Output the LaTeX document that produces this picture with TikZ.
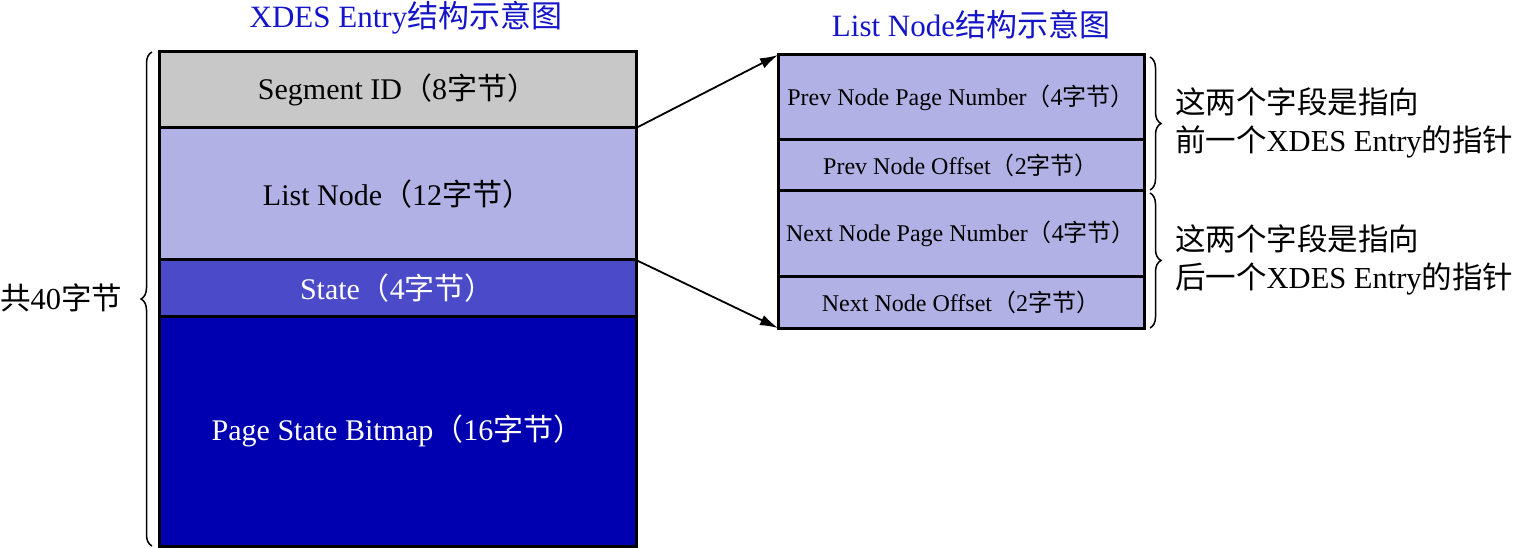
\documentclass[tikz,border=0pt]{standalone}
\usepackage{fontspec}
\setmainfont{Liberation Serif}
\newfontfamily\cjk{Noto Sans CJK SC}
\newcommand{\zh}[1]{{\cjk #1}}
\definecolor{segray}{HTML}{C8C8C8}
\definecolor{lavender}{HTML}{B1B1E6}
\definecolor{stateblue}{HTML}{4B4BC9}
\definecolor{deepblue}{HTML}{0000B0}
\definecolor{titleblue}{HTML}{1414C8}
\usetikzlibrary{arrows.meta, positioning, decorations.pathreplacing}

\begin{document}
\begin{tikzpicture}[x=1pt, y=-1pt,
    field/.style={draw=black, line width=3pt, inner sep=0pt, outer sep=0pt,
                  align=center, font=\fontsize{30}{34}\selectfont},
    subfield/.style={field, fill=lavender, minimum width=366pt,
                     font=\fontsize{24}{28}\selectfont},
    note/.style={inner sep=0pt, align=left, font=\fontsize{30.5}{38}\selectfont},
    heading/.style={inner sep=0pt, text=titleblue, font=\fontsize{31}{35}\selectfont},
    curly/.style={decorate, decoration={brace, amplitude=11pt}, line width=1.5pt}]
  \useasboundingbox (0,0) rectangle (1521,548);

  % XDES Entry
  \node[heading] (xdestitle) at (406,18) {XDES Entry\zh{结构示意图}};
  \node[field, fill=segray, minimum width=477pt, minimum height=76pt, anchor=north west]
    (seg) at (159,52) {Segment ID\zh{（}8\zh{字节）}};
  \node[field, fill=lavender, minimum width=477pt, minimum height=132pt, below=0pt of seg]
    (lnode) {List Node\zh{（}12\zh{字节）}};
  \node[field, fill=stateblue, text=white, minimum width=477pt, minimum height=56pt, below=0pt of lnode]
    (state) {State\zh{（}4\zh{字节）}};
  \node[field, fill=deepblue, text=white, minimum width=477pt, minimum height=230pt, below=0pt of state]
    (bitmap) {Page State Bitmap\zh{（}16\zh{字节）}};

  \draw[curly] (152,546) -- (152,52) coordinate[midway] (total);
  \node[note, anchor=west] (totallabel) at (0,298) {\zh{共}40\zh{字节}};

  % List Node
  \node[heading] (listtitle) at (971,25) {List Node\zh{结构示意图}};
  \node[subfield, minimum height=85pt, anchor=north west]
    (pnum) at (778,55) {Prev Node Page Number\zh{（}4\zh{字节）}};
  \node[subfield, minimum height=51pt, below=0pt of pnum]
    (poff) {Prev Node Offset\zh{（}2\zh{字节）}};
  \node[subfield, minimum height=85pt, below=0pt of poff]
    (nnum) {Next Node Page Number\zh{（}4\zh{字节）}};
  \node[subfield, minimum height=52pt, below=0pt of nnum]
    (noff) {Next Node Offset\zh{（}2\zh{字节）}};

  \draw[-{Latex[length=18pt, width=11pt]}, line width=1.8pt] (seg.south east) -- (pnum.north west);
  \draw[-{Latex[length=18pt, width=11pt]}, line width=1.8pt] (state.north east) -- (noff.south west);

  \draw[curly] (1150,57) -- (1150,190);
  \draw[curly] (1150,193) -- (1150,328);
  \node[note, anchor=west] (prevnote) at (1175,123)
    {\zh{这两个字段是指向}\\\zh{前一个}XDES Entry\zh{的指针}};
  \node[note, anchor=west] (nextnote) at (1175,260)
    {\zh{这两个字段是指向}\\\zh{后一个}XDES Entry\zh{的指针}};
\end{tikzpicture}
\end{document}
